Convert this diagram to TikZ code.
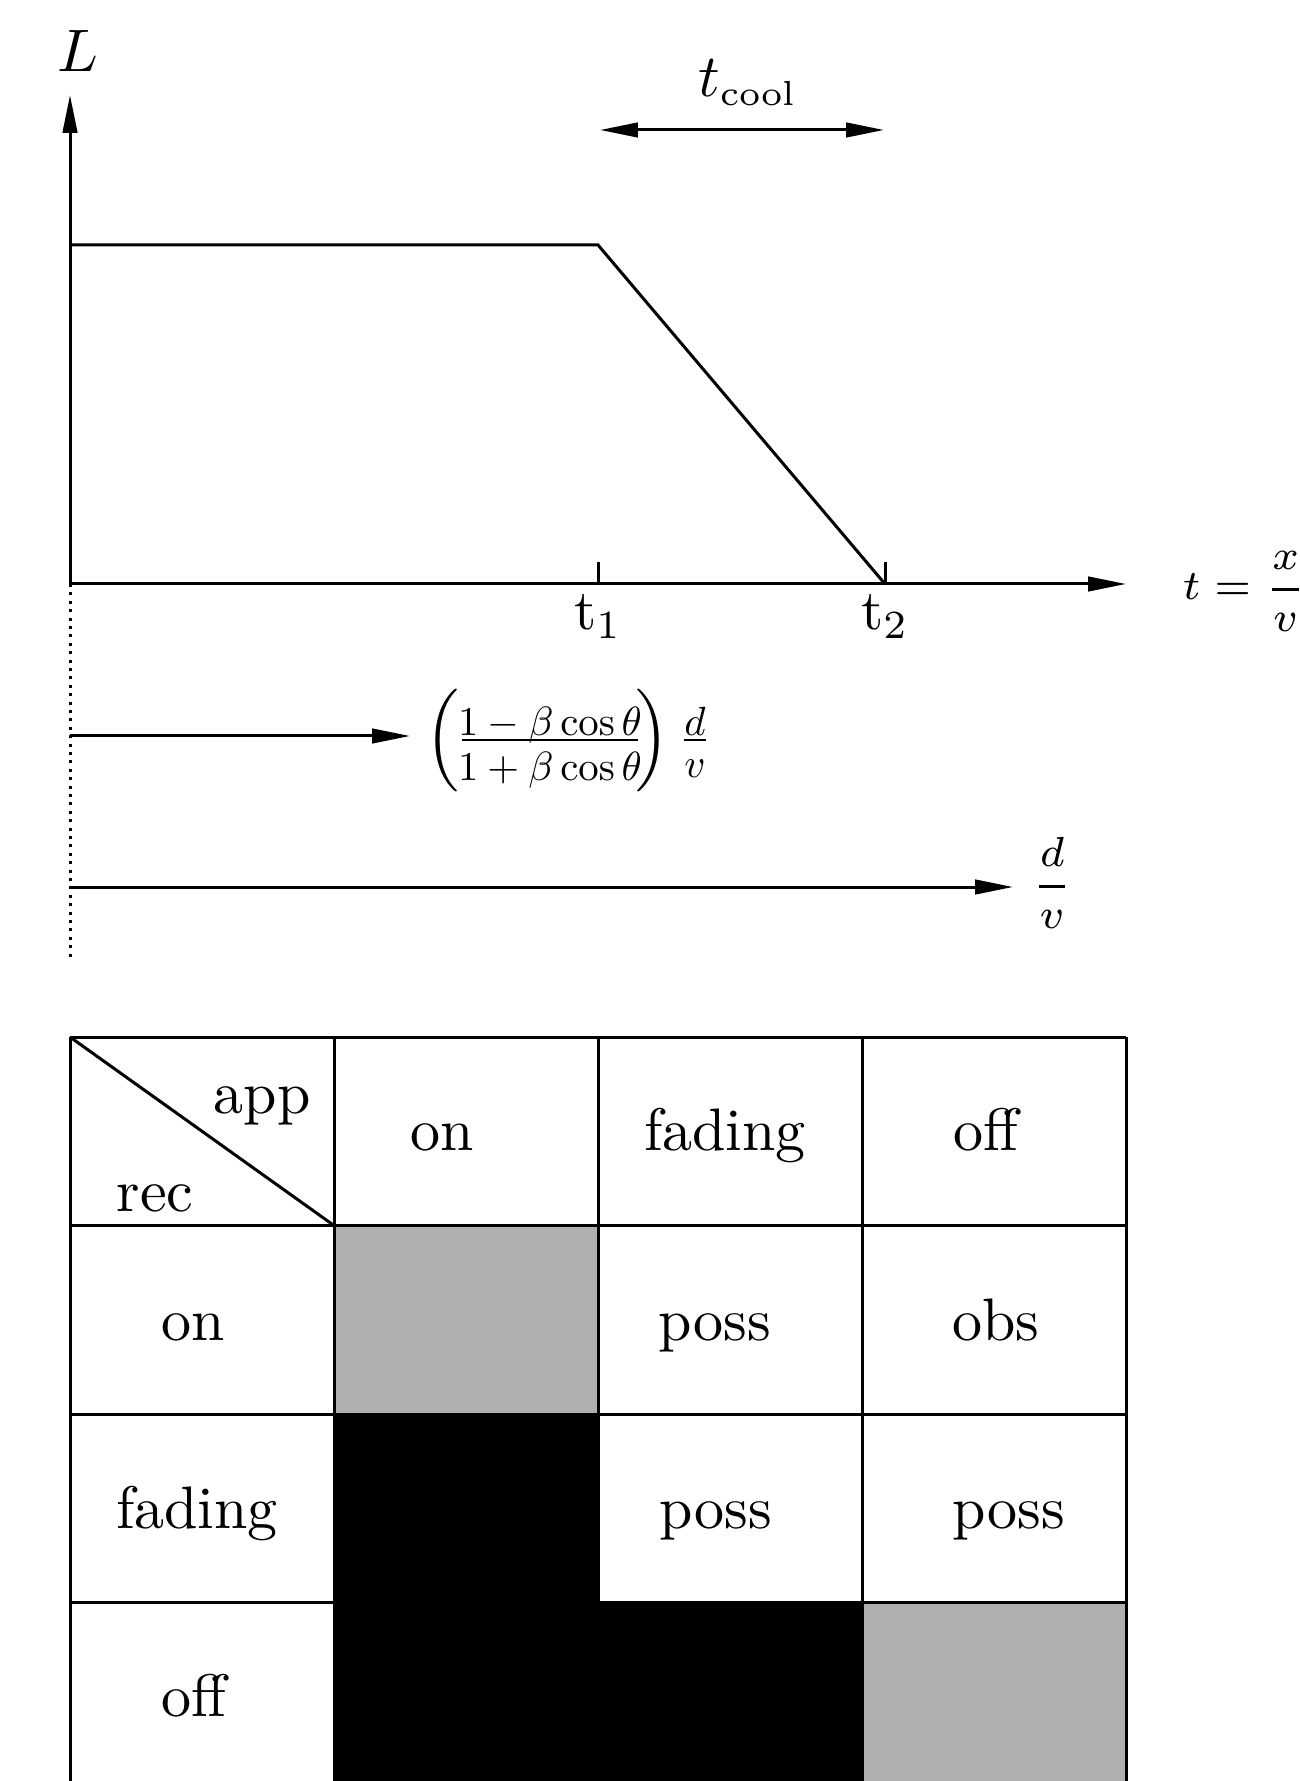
\documentclass[tikz,border=0pt]{standalone}
\usetikzlibrary{arrows.meta}
\definecolor{cellgray}{RGB}{175,175,175}
\begin{document}
\begin{tikzpicture}[x=0.166667pt, y=-0.166667pt, line width=0.5pt,
  tipend/.style={-{Triangle[length=6.3pt,width=2.4pt]}},
  tipboth/.style={{Triangle[length=6.3pt,width=2.4pt]}-{Triangle[length=6.3pt,width=2.4pt]}},
  lbl/.style={inner sep=0pt, anchor=base},
  lblw/.style={inner sep=0pt, anchor=base west},
  small/.style={inner sep=0pt, anchor=base, scale=0.68},
  fracbar/.style={line width=0.3pt},
  dotline/.style={dash pattern=on 0.5pt off 0.9pt},
  grid/.style={line width=0.5pt}]
\useasboundingbox (0,0) rectangle (1300,1781);
\clip (0,0) rectangle (1300,1781);
% ---------- graph ----------
\coordinate (O) at (70,584);
\coordinate (Ytop) at (70,95);
\coordinate (Xend) at (1126,584);
\coordinate (P0) at (70,245);
\coordinate (P1) at (598,245);
\coordinate (P2) at (885,584);
\coordinate (T1a) at (598,562);
\coordinate (T1b) at (598,584);
\coordinate (T2a) at (885,562);
\coordinate (T2b) at (885,584);
\coordinate (Ca) at (600,130);
\coordinate (Cb) at (884,130);
\coordinate (Dend) at (70,959);
\coordinate (A1s) at (70,736);
\coordinate (A1e) at (410,736);
\coordinate (A2s) at (70,887);
\coordinate (A2e) at (1013,887);

\draw[tipend] (O) -- (Ytop);
\draw[tipend] (O) -- (Xend);
\draw (P0) -- (P1) -- (P2);
\draw (T1a) -- (T1b);
\draw (T2a) -- (T2b);
\draw[tipboth] (Ca) -- (Cb);
\draw[dotline] (O) -- (Dend);
\draw[tipend] (A1s) -- (A1e);
\draw[tipend] (A2s) -- (A2e);

\node[lblw] (Llab) at (56,72) {$L$};
\node[lblw] (tcool) at (697,97) {$t_{\mbox{\fontsize{5.8}{6}\selectfont cool}}$};
\node[lbl, scale=0.95] (t1) at (598,630) {t$_1$};
\node[lbl, scale=0.95] (t2) at (885,630) {t$_2$};
\node[lblw] (txv) at (1181,600) {\scriptsize$\displaystyle t=\frac{x}{v}$};
\node[lbl] (dv) at (1052,897) {\scriptsize$\displaystyle\frac{d}{v}$};

% ---------- expression (1 - beta cos theta)/(1 + beta cos theta) d/v ----------
\node[inner sep=0pt, scale=0.95] (lpar) at (443,741) {$\Big($};
\node[small] (num) at (550,735) {$1-\beta\cos\theta$};
\node[small] (den) at (550,780) {$1+\beta\cos\theta$};
\coordinate (Fb1) at (462,740);
\coordinate (Fb2) at (638,740);
\draw[fracbar] (Fb1) -- (Fb2);
\node[inner sep=0pt, scale=0.95] (rpar) at (653,741) {$\Big)$};
\node[small] (dnum) at (695,735) {$d$};
\node[small] (dden) at (695,777) {$v$};
\coordinate (Gb1) at (684,740);
\coordinate (Gb2) at (706,740);
\draw[fracbar] (Gb1) -- (Gb2);

% ---------- table ----------
\fill[cellgray] (334,1225.5) rectangle (598,1414);
\fill[black] (334,1414) rectangle (598,1602.5);
\fill[black] (334,1602.5) rectangle (862,1800);
\fill[cellgray] (862,1602.5) rectangle (1126,1800);

\foreach \yy in {1037,1225.5,1414,1602.5}
  \draw[grid] (70,\yy) -- (1126,\yy);
\foreach \xx in {70,334,598,862,1126}
  \draw[grid] (\xx,1037) -- (\xx,1800);
\coordinate (Dg1) at (70,1037);
\coordinate (Dg2) at (334,1225.5);
\draw[grid] (Dg1) -- (Dg2);

\node[lbl] (app) at (262,1113) {app};
\node[lbl] (rec) at (155,1211) {rec};
\node[lbl] (hon) at (442,1150) {on};
\node[lbl] (hfad) at (725,1150) {fading};
\node[lbl] (hoff) at (986,1150) {off};
\node[lbl] (ron) at (193,1340) {on};
\node[lbl] (rfad) at (197,1528) {fading};
\node[lbl] (roff) at (194,1716) {off};
\node[lbl] (p11) at (715,1340) {poss};
\node[lbl] (o12) at (996,1340) {obs};
\node[lbl] (p21) at (716,1528) {poss};
\node[lbl] (p22) at (1009,1528) {poss};
\end{tikzpicture}
\end{document}
